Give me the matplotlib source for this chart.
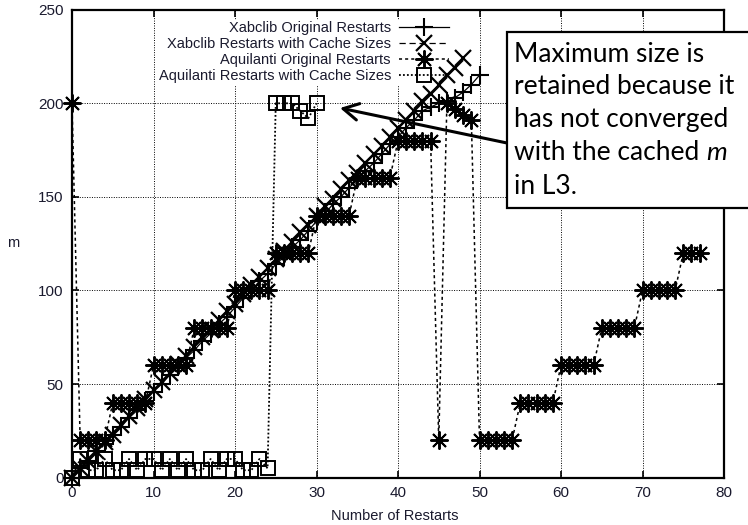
import matplotlib
matplotlib.use('Agg')
import matplotlib.pyplot as plt
from matplotlib.patches import Rectangle

# ---------------- data ----------------
restarts_xabclib_orig = list(range(0, 51))
m_xabclib_orig = [0, 5, 9, 14, 18, 23, 27, 32, 36, 41,
                  46, 50, 55, 59, 64, 68, 73, 77, 82, 86,
                  91, 96, 100, 105, 109, 114, 118, 123, 127, 132,
                  137, 141, 146, 150, 155, 159, 164, 168, 173, 178,
                  182, 187, 191, 196, 198, 200, 201, 203, 206, 210,
                  215]

restarts_xabclib_cache = list(range(0, 49))
m_xabclib_cache = [0, 5, 9, 14, 19, 23, 28, 33, 37, 42,
                   47, 51, 56, 61, 65, 70, 75, 79, 84, 89,
                   93, 98, 103, 107, 112, 117, 121, 126, 131, 135,
                   140, 145, 149, 154, 159, 163, 168, 173, 177, 182,
                   187, 191, 196, 201, 205, 210, 215, 219, 224]

restarts_aquilanti_orig = list(range(0, 78))
m_aquilanti_orig = [200, 20, 20, 20, 20, 40, 40, 40, 40, 40,
                    60, 60, 60, 60, 60, 80, 80, 80, 80, 80,
                    100, 100, 100, 100, 100, 120, 120, 120, 120, 120,
                    140, 140, 140, 140, 140, 160, 160, 160, 160, 160,
                    180, 180, 180, 180, 180, 20, 200, 197, 194, 191,
                    20, 20, 20, 20, 20, 40, 40, 40, 40, 40,
                    60, 60, 60, 60, 60, 80, 80, 80, 80, 80,
                    100, 100, 100, 100, 100, 120, 120, 120]

restarts_aquilanti_cache = list(range(0, 31))
m_aquilanti_cache = [0, 10, 4, 4, 10, 4, 4, 10, 4, 10,
                     10, 4, 10, 4, 10, 4, 4, 10, 4, 10,
                     10, 4, 4, 10, 5, 200, 200, 200, 196, 192,
                     200]

series_labels = ["Xabclib Original Restarts",
                 "Xabclib Restarts with Cache Sizes",
                 "Aquilanti Original Restarts",
                 "Aquilanti Restarts with Cache Sizes"]
x_ticks = [0, 10, 20, 30, 40, 50, 60, 70, 80]
y_ticks = [0, 50, 100, 150, 200, 250]
x_label = "Number of Restarts"
y_label = "m"
note_lines = ["Maximum size is", "retained because it",
              "has not converged", "with the cached", "in L3."]
note_italic = "m"

# ---------------- figure ----------------
W, H = 748, 525
plt.rcParams['font.family'] = ['Liberation Sans', 'DejaVu Sans']
fig = plt.figure(figsize=(W / 100, H / 100), dpi=100)
ax = fig.add_axes([72 / W, (H - 477.7) / H, 652 / W, 468 / H])
ax.set_axisbelow(True)

ax.plot(restarts_xabclib_orig, m_xabclib_orig, color='black', lw=0.9,
        ls='-', marker='+', ms=13, mew=1.5, clip_on=False,
        label=series_labels[0], zorder=3)
ax.plot(restarts_xabclib_cache, m_xabclib_cache, color='black', lw=0.9,
        ls=(0, (5, 3)), marker='x', ms=12, mew=1.6, clip_on=False,
        label=series_labels[1], zorder=4)
ax.plot(restarts_aquilanti_orig, m_aquilanti_orig, color='black', lw=1.1,
        ls=(0, (2, 2)), marker=(8, 2, 0), ms=13, mew=1.4, clip_on=False,
        label=series_labels[2], zorder=5)
ax.plot(restarts_aquilanti_cache, m_aquilanti_cache, color='black', lw=1.3,
        ls=(0, (1, 1.2)), marker='s', ms=10.5, mfc='none', mew=1.4,
        clip_on=False, label=series_labels[3], zorder=6)

ax.set_xlim(0, 80)
ax.set_ylim(0, 250)
ax.set_xticks(x_ticks)
ax.set_yticks(y_ticks)
ax.tick_params(direction='in', length=5, width=1.2, top=True, right=True,
               labelsize=11, pad=6, colors='black', labelcolor='#1a1a2e')
ax.grid(True, color='black', ls=(0, (1, 1.5)), lw=0.7)
for s in ax.spines.values():
    s.set_linewidth(1.6)
    s.set_zorder(8)

ax.set_xlabel(x_label, fontsize=10.5, color='#1a1a2e')
ax.set_ylabel(y_label, fontsize=10.5, color='#1a1a2e', rotation=0,
              va='center', ha='center')
ax.xaxis.set_label_coords((395 - 72) / 652, -(509 - 477.7) / 468)
ax.yaxis.set_label_coords(-(72 - 13) / 652, (477.7 - 243) / 468)

leg = ax.legend(loc='upper right', bbox_to_anchor=(450 / W, (H - 20) / H),
                bbox_transform=fig.transFigure, frameon=True,
                facecolor='white', edgecolor='none', framealpha=1.0,
                fancybox=False, shadow=False,
                markerfirst=False, fontsize=10.5, handlelength=3.4,
                handletextpad=0.55, labelspacing=0.13, borderpad=0.1,
                borderaxespad=0, numpoints=1)
leg.set_zorder(2)
for t in leg.get_texts():
    t.set_color('#1a1a2e')

# ---------------- annotation ----------------
ax.annotate('', xy=(340 / W, (H - 108) / H), xycoords='figure fraction',
            xytext=(507 / W, (H - 143) / H), textcoords='figure fraction',
            arrowprops=dict(arrowstyle='->,head_length=1.1,head_width=0.6',
                            lw=2.2, color='black', shrinkA=0, shrinkB=0,
                            mutation_scale=10),
            zorder=20, annotation_clip=False)

box = Rectangle((507 / W, (H - 208) / H), 0.5, 176 / H,
                transform=fig.transFigure, facecolor='white',
                edgecolor='black', lw=1.6, zorder=30)
fig.add_artist(box)

baselines = [62, 94, 127, 160, 194]
note_font = ['Lato', 'DejaVu Sans']
texts = []
for line, b in zip(note_lines, baselines):
    t = fig.text(514 / W, (H - b) / H, line, fontsize=19, family=note_font,
                 va='baseline', ha='left', color='black', zorder=31)
    texts.append(t)
fig.canvas.draw()
bb = texts[3].get_window_extent(renderer=fig.canvas.get_renderer())
fig.text((bb.x1 + 7) / W, (H - baselines[3]) / H, note_italic, fontsize=19,
         family=note_font, style='italic', va='baseline', ha='left',
         color='black', zorder=31)

fig.savefig('out.png', dpi=100)
